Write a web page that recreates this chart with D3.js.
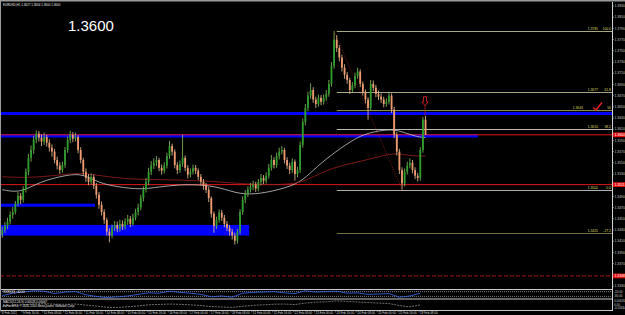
<!DOCTYPE html>
<html>
<head>
<meta charset="utf-8">
<script src="https://cdn.jsdelivr.net/npm/d3@7"></script>
<style>
  body { margin: 0; background: #000; }
  svg { display: block; font-family: Arial, "Liberation Sans", sans-serif; }
</style>
</head>
<body>
<script>
// chart header texts
const symbolLine = 'EURUSD,H1  1.3627 1.3634 1.3600 1.3600';
const bigLabel = '1.3600';
const willRLabel = 'WillR(40) -40.00';
const macdLabel = 'MACD(12,26,9) 0.00026 0.00047';
const copyLabel = 'FxPro MT4, \u00a9 2001-2010 MetaQuotes Software Corp.';

// candles (one per 2 hours)
const opens = [
  1.3422, 1.3430, 1.3437, 1.3445, 1.3457, 1.3462, 1.3477, 1.3491, 1.3484, 1.3502,
  1.3534, 1.3559, 1.3573, 1.3591, 1.3602, 1.3595, 1.3588, 1.3596, 1.3586, 1.3577,
  1.3570, 1.3555, 1.3545, 1.3537, 1.3546, 1.3573, 1.3591, 1.3600, 1.3593, 1.3596,
  1.3573, 1.3555, 1.3534, 1.3523, 1.3516, 1.3525, 1.3509, 1.3493, 1.3475, 1.3462,
  1.3448, 1.3427, 1.3420, 1.3434, 1.3439, 1.3432, 1.3441, 1.3436, 1.3445, 1.3450,
  1.3441, 1.3452, 1.3462, 1.3470, 1.3487, 1.3502, 1.3516, 1.3534, 1.3545, 1.3550,
  1.3555, 1.3541, 1.3536, 1.3545, 1.3562, 1.3580, 1.3570, 1.3546, 1.3537, 1.3548,
  1.3559, 1.3541, 1.3529, 1.3534, 1.3541, 1.3536, 1.3525, 1.3516, 1.3509, 1.3502,
  1.3487, 1.3459, 1.3437, 1.3448, 1.3461, 1.3452, 1.3441, 1.3434, 1.3427, 1.3420,
  1.3411, 1.3427, 1.3462, 1.3484, 1.3495, 1.3502, 1.3507, 1.3511, 1.3504, 1.3516,
  1.3523, 1.3518, 1.3527, 1.3541, 1.3555, 1.3546, 1.3562, 1.3570, 1.3573, 1.3555,
  1.3545, 1.3537, 1.3552, 1.3530, 1.3537, 1.3582, 1.3623, 1.3648, 1.3670, 1.3680,
  1.3663, 1.3655, 1.3666, 1.3659, 1.3666, 1.3673, 1.3691, 1.3723, 1.3770, 1.3755,
  1.3738, 1.3720, 1.3707, 1.3698, 1.3680, 1.3688, 1.3705, 1.3713, 1.3691, 1.3677,
  1.3663, 1.3648, 1.3691, 1.3684, 1.3673, 1.3668, 1.3663, 1.3655, 1.3659, 1.3670,
  1.3645, 1.3600, 1.3570, 1.3537, 1.3513, 1.3534, 1.3545, 1.3550, 1.3537, 1.3527,
  1.3523, 1.3573, 1.3627
];
const highs = [
  1.3436, 1.3444, 1.3452, 1.3463, 1.3471, 1.3482, 1.3498, 1.3496, 1.3508, 1.3540,
  1.3566, 1.3581, 1.3598, 1.3608, 1.3607, 1.3601, 1.3604, 1.3600, 1.3592, 1.3583,
  1.3575, 1.3561, 1.3551, 1.3552, 1.3578, 1.3597, 1.3607, 1.3605, 1.3604, 1.3599,
  1.3578, 1.3559, 1.3540, 1.3530, 1.3531, 1.3529, 1.3514, 1.3498, 1.3481, 1.3467,
  1.3452, 1.3433, 1.3440, 1.3446, 1.3445, 1.3448, 1.3447, 1.3451, 1.3457, 1.3455,
  1.3459, 1.3468, 1.3477, 1.3493, 1.3508, 1.3523, 1.3541, 1.3553, 1.3558, 1.3562,
  1.3559, 1.3547, 1.3551, 1.3568, 1.3589, 1.3584, 1.3574, 1.3551, 1.3554, 1.3600,
  1.3563, 1.3546, 1.3540, 1.3547, 1.3546, 1.3540, 1.3530, 1.3521, 1.3514, 1.3507,
  1.3490, 1.3463, 1.3454, 1.3467, 1.3466, 1.3457, 1.3446, 1.3439, 1.3432, 1.3425,
  1.3432, 1.3467, 1.3490, 1.3501, 1.3508, 1.3514, 1.3518, 1.3516, 1.3521, 1.3530,
  1.3528, 1.3533, 1.3548, 1.3564, 1.3560, 1.3568, 1.3577, 1.3580, 1.3577, 1.3560,
  1.3550, 1.3558, 1.3556, 1.3543, 1.3588, 1.3629, 1.3655, 1.3677, 1.3692, 1.3685,
  1.3668, 1.3672, 1.3671, 1.3672, 1.3680, 1.3698, 1.3730, 1.3785, 1.3778, 1.3760,
  1.3743, 1.3726, 1.3712, 1.3702, 1.3694, 1.3711, 1.3720, 1.3717, 1.3695, 1.3681,
  1.3667, 1.3698, 1.3697, 1.3689, 1.3679, 1.3674, 1.3668, 1.3665, 1.3677, 1.3674,
  1.3650, 1.3605, 1.3575, 1.3542, 1.3540, 1.3552, 1.3558, 1.3555, 1.3542, 1.3532,
  1.3578, 1.3632, 1.3634
];
const lows = [
  1.3416, 1.3425, 1.3432, 1.3440, 1.3450, 1.3458, 1.3472, 1.3476, 1.3479, 1.3497,
  1.3528, 1.3552, 1.3566, 1.3585, 1.3588, 1.3580, 1.3582, 1.3579, 1.3570, 1.3561,
  1.3549, 1.3538, 1.3530, 1.3532, 1.3541, 1.3568, 1.3585, 1.3587, 1.3588, 1.3567,
  1.3549, 1.3527, 1.3516, 1.3510, 1.3511, 1.3503, 1.3486, 1.3468, 1.3456, 1.3441,
  1.3420, 1.3408, 1.3415, 1.3428, 1.3426, 1.3427, 1.3430, 1.3431, 1.3439, 1.3435,
  1.3437, 1.3447, 1.3456, 1.3465, 1.3481, 1.3497, 1.3510, 1.3528, 1.3539, 1.3544,
  1.3535, 1.3529, 1.3531, 1.3540, 1.3557, 1.3563, 1.3540, 1.3530, 1.3532, 1.3543,
  1.3535, 1.3522, 1.3524, 1.3529, 1.3530, 1.3519, 1.3510, 1.3502, 1.3496, 1.3480,
  1.3452, 1.3425, 1.3432, 1.3443, 1.3446, 1.3435, 1.3428, 1.3420, 1.3413, 1.3404,
  1.3406, 1.3422, 1.3457, 1.3478, 1.3489, 1.3497, 1.3501, 1.3498, 1.3499, 1.3510,
  1.3512, 1.3513, 1.3522, 1.3536, 1.3540, 1.3541, 1.3556, 1.3565, 1.3549, 1.3539,
  1.3530, 1.3532, 1.3518, 1.3524, 1.3532, 1.3577, 1.3617, 1.3642, 1.3664, 1.3657,
  1.3648, 1.3650, 1.3653, 1.3654, 1.3661, 1.3668, 1.3686, 1.3718, 1.3748, 1.3731,
  1.3713, 1.3700, 1.3691, 1.3673, 1.3675, 1.3683, 1.3700, 1.3685, 1.3670, 1.3656,
  1.3627, 1.3643, 1.3678, 1.3667, 1.3662, 1.3657, 1.3649, 1.3650, 1.3654, 1.3639,
  1.3594, 1.3563, 1.3530, 1.3502, 1.3508, 1.3529, 1.3540, 1.3531, 1.3521, 1.3517,
  1.3518, 1.3568, 1.3600
];
const closes = [
  1.3430, 1.3437, 1.3445, 1.3457, 1.3462, 1.3477, 1.3491, 1.3484, 1.3502, 1.3534,
  1.3559, 1.3573, 1.3591, 1.3602, 1.3595, 1.3588, 1.3596, 1.3586, 1.3577, 1.3570,
  1.3555, 1.3545, 1.3537, 1.3546, 1.3573, 1.3591, 1.3600, 1.3593, 1.3596, 1.3573,
  1.3555, 1.3534, 1.3523, 1.3516, 1.3525, 1.3509, 1.3493, 1.3475, 1.3462, 1.3448,
  1.3427, 1.3420, 1.3434, 1.3439, 1.3432, 1.3441, 1.3436, 1.3445, 1.3450, 1.3441,
  1.3452, 1.3462, 1.3470, 1.3487, 1.3502, 1.3516, 1.3534, 1.3545, 1.3550, 1.3555,
  1.3541, 1.3536, 1.3545, 1.3562, 1.3580, 1.3570, 1.3546, 1.3537, 1.3548, 1.3559,
  1.3541, 1.3529, 1.3534, 1.3541, 1.3536, 1.3525, 1.3516, 1.3509, 1.3502, 1.3487,
  1.3459, 1.3437, 1.3448, 1.3461, 1.3452, 1.3441, 1.3434, 1.3427, 1.3420, 1.3411,
  1.3427, 1.3462, 1.3484, 1.3495, 1.3502, 1.3507, 1.3511, 1.3504, 1.3516, 1.3523,
  1.3518, 1.3527, 1.3541, 1.3555, 1.3546, 1.3562, 1.3570, 1.3573, 1.3555, 1.3545,
  1.3537, 1.3552, 1.3530, 1.3537, 1.3582, 1.3623, 1.3648, 1.3670, 1.3680, 1.3663,
  1.3655, 1.3666, 1.3659, 1.3666, 1.3673, 1.3691, 1.3723, 1.3770, 1.3755, 1.3738,
  1.3720, 1.3707, 1.3698, 1.3680, 1.3688, 1.3705, 1.3713, 1.3691, 1.3677, 1.3663,
  1.3648, 1.3691, 1.3684, 1.3673, 1.3668, 1.3663, 1.3655, 1.3659, 1.3670, 1.3645,
  1.3600, 1.3570, 1.3537, 1.3513, 1.3534, 1.3545, 1.3550, 1.3537, 1.3527, 1.3523,
  1.3573, 1.3627, 1.3600
];

// moving averages, sampled at candle numbers
const maWhiteBars = [0, 7, 14, 25, 31, 37, 44, 53, 60, 68, 75, 83, 91, 99, 106, 114, 119, 125, 134, 140, 149, 154, 159, 162];
const maWhite = [1.3502, 1.3496, 1.3516, 1.3529, 1.3530, 1.3514, 1.3507, 1.3502, 1.3507, 1.3511, 1.3511, 1.3507, 1.3493, 1.3495, 1.3502, 1.3514, 1.3537, 1.3561, 1.3591, 1.3604, 1.3611, 1.3604, 1.3596, 1.3595];
const maRedBars = [0, 12, 25, 31, 37, 50, 63, 75, 83, 96, 109, 116, 125, 140, 149, 154, 159, 162];
const maRed = [1.3525, 1.3523, 1.3530, 1.3532, 1.3527, 1.3520, 1.3520, 1.3518, 1.3516, 1.3511, 1.3511, 1.3516, 1.3541, 1.3555, 1.3568, 1.3564, 1.3562, 1.3562];

// indicator panels, one value every 4 candles
const willR = [-70, -40, -25, -10, -15, -45, -25, -20, -60, -80, -95, -85, -75, -55, -35, -40, -15, -30, -40, -55, -85, -75, -90, -40, -30, -25, -20, -35, -45, -10, -25, -20, -15, -40, -35, -55, -50, -45, -90, -75, -40];
const macd = [-0.0008, -0.0003, 0.0004, 0.0012, 0.0014, 0.0009, 0.0008, 0.0010, 0.0002, -0.0006, -0.0016, -0.0018, -0.0012, -0.0005, 0.0004, 0.0007, 0.0010, 0.0008, 0.0004, -0.0002, -0.0010, -0.0014, -0.0017, -0.0008, 0.0000, 0.0004, 0.0009, 0.0010, 0.0006, 0.0018, 0.0026, 0.0028, 0.0036, 0.0032, 0.0027, 0.0022, 0.0018, 0.0014, -0.0002, -0.0012, 0.0003];
const willRLevels = [-20, -80];
const macdAxis = ['0.00426', '0.00', '-0.00344'];

// axes
const priceTicks = [1.3830, 1.3810, 1.3790, 1.3770, 1.3750, 1.3730, 1.3710, 1.3690, 1.3670, 1.3650, 1.3630, 1.3610, 1.3590,
                    1.3570, 1.3550, 1.3530, 1.3510, 1.3490, 1.3470, 1.3450, 1.3430, 1.3410, 1.3390, 1.3370, 1.3350, 1.3330];
const dateLabels = ['8 Feb 2011', '9 Feb 16:00', '10 Feb 08:00', '11 Feb 00:00', '11 Feb 16:00', '14 Feb 08:00', '15 Feb 00:00',
                    '15 Feb 16:00', '16 Feb 08:00', '17 Feb 00:00', '17 Feb 16:00', '18 Feb 08:00', '21 Feb 00:00', '21 Feb 16:00',
                    '22 Feb 08:00', '23 Feb 00:00', '23 Feb 16:00', '24 Feb 08:00', '25 Feb 00:00', '25 Feb 16:00', '28 Feb 08:00'];

// drawn objects (prices, hour-bar numbers)
const fibHigh = 1.3785;
const fibLow = 1.3502;
const fibStartHour = 257;
const fibLowHour = 307;
const fibLevels = [100, 61.8, 50, 38.2, 0, -27.2];
const blueLevels = [1.3638, 1.3598];
const blueLevelEnds = [null, 365];
const blueZonesTop = [1.3477, 1.3439];
const blueZonesBottom = [1.3473, 1.3420];
const blueZoneEnds = [72, 190];
const redLevels = [1.3600, 1.3511, 1.3348];

let width = 625;
let height = 315;
let plotRight = 612;
let svg = d3.select('body').append('svg').attr('width', width).attr('height', height);

// hour bars -> x, prices -> y
let xHour = d3.scaleLinear().domain([0, 320]).range([1, 419]);
let xCandle = (j) => xHour(2 * j + 1);
let y = d3.scaleLinear().domain([1.3330, 1.3830]).range([286, 6]);
let yWill = d3.scaleLinear().domain([0, -100]).range([290, 298]);
let yMacd = d3.scaleLinear().domain([0.0043, -0.0034]).range([300, 309.5]);

let main = svg.append('g');
main.append('clipPath').attr('id', 'clipMain')
  .append('rect').attr('x', 0).attr('y', 2).attr('width', plotRight).attr('height', 287);

let drawZones = () => {
  let g = main.append('g').attr('clip-path', 'url(#clipMain)');
  g.selectAll('rect.zone')
    .data(blueZonesTop)
    .enter()
    .append('rect')
      .attr('x', 0)
      .attr('y', (d) => y(d))
      .attr('width', (d, i) => xHour(blueZoneEnds[i]))
      .attr('height', (d, i) => Math.max(3, y(blueZonesBottom[i]) - y(d)))
      .attr('fill', '#0000ff');
  g.selectAll('line.blue')
    .data(blueLevels)
    .enter()
    .append('line')
      .attr('x1', 0)
      .attr('x2', (d, i) => blueLevelEnds[i] === null ? plotRight : xHour(blueLevelEnds[i]))
      .attr('y1', (d) => y(d))
      .attr('y2', (d) => y(d))
      .attr('stroke', '#0000ff')
      .attr('stroke-width', 3.2);
  g.selectAll('line.red')
    .data(redLevels)
    .enter()
    .append('line')
      .attr('x1', 0)
      .attr('x2', plotRight)
      .attr('y1', (d) => y(d))
      .attr('y2', (d) => y(d))
      .attr('stroke', (d, i) => i === 2 ? '#a01818' : '#e01818')
      .attr('stroke-width', 1)
      .attr('stroke-dasharray', (d, i) => i === 2 ? '4,2' : null);
}

let drawFib = () => {
  let g = main.append('g');
  let range = fibHigh - fibLow;
  let levelColors = ['#a8a880', '#a8a880', '#8a8a50', '#b8b8b0', '#b0b0a8', '#707040'];
  g.selectAll('line')
    .data(fibLevels)
    .enter()
    .append('line')
      .attr('x1', xHour(fibStartHour))
      .attr('x2', plotRight)
      .attr('y1', (d) => Math.round(y(fibLow + range * d / 100)) + 0.5)
      .attr('y2', (d) => Math.round(y(fibLow + range * d / 100)) + 0.5)
      .attr('stroke', (d, i) => levelColors[i])
      .attr('stroke-width', 1);
  g.selectAll('text.lvl')
    .data(fibLevels)
    .enter()
    .append('text')
      .attr('x', plotRight - 1)
      .attr('y', (d) => y(fibLow + range * d / 100) - 1)
      .attr('text-anchor', 'end')
      .attr('font-size', 3.4)
      .attr('fill', '#d8d868')
      .text((d) => d === 50 ? '50' : d.toFixed(1));
  g.selectAll('text.price')
    .data(fibLevels)
    .enter()
    .append('text')
      .attr('x', (d) => d === 50 ? plotRight - 29 : plotRight - 14)
      .attr('y', (d) => y(fibLow + range * d / 100) - 1)
      .attr('text-anchor', 'end')
      .attr('font-size', 3.4)
      .attr('fill', '#d8d868')
      .text((d) => (fibLow + range * d / 100).toFixed(4));
  // dotted trend line of the fibo
  g.append('line')
    .attr('x1', xHour(fibStartHour - 2))
    .attr('y1', y(fibHigh))
    .attr('x2', xHour(fibLowHour))
    .attr('y2', y(fibLow))
    .attr('stroke', '#a02020')
    .attr('stroke-width', 0.8)
    .attr('stroke-dasharray', '1,1.5');
  // red tick mark beside the 50 level
  let y50 = y(fibLow + range * 0.5);
  g.append('path')
    .attr('d', `M${plotRight - 19},${y50 - 3} L${plotRight - 16},${y50 - 0.5} L${plotRight - 10},${y50 - 8}`)
    .attr('fill', 'none')
    .attr('stroke', '#e02020')
    .attr('stroke-width', 1.4);
}

let drawAverages = () => {
  let line = d3.line().curve(d3.curveBasis);
  main.append('path')
    .attr('d', line(maWhiteBars.map((b, i) => [xCandle(b), y(maWhite[i])])))
    .attr('fill', 'none')
    .attr('stroke', '#c8c8c8')
    .attr('stroke-width', 0.8);
  main.append('path')
    .attr('d', line(maRedBars.map((b, i) => [xCandle(b), y(maRed[i])])))
    .attr('fill', 'none')
    .attr('stroke', '#9a2020')
    .attr('stroke-width', 0.8);
}

let drawCandles = () => {
  let idx = d3.range(closes.length);
  let up = (i) => closes[i] >= opens[i];
  let candle = main.selectAll('g.candle')
    .data(idx)
    .enter()
    .append('g');
  candle.append('line')
    .attr('x1', (i) => xCandle(i))
    .attr('x2', (i) => xCandle(i))
    .attr('y1', (i) => y(highs[i]))
    .attr('y2', (i) => y(lows[i]))
    .attr('stroke', (i) => up(i) ? '#8cc060' : '#e8c898')
    .attr('stroke-width', 0.8);
  candle.append('rect')
    .attr('x', (i) => xCandle(i) - 0.9)
    .attr('y', (i) => y(Math.max(opens[i], closes[i])))
    .attr('width', 1.8)
    .attr('height', (i) => Math.max(0.8, Math.abs(y(opens[i]) - y(closes[i]))))
    .attr('fill', (i) => up(i) ? '#2e9e2e' : '#f09a70');
  // red arrow over the last bar
  let last = closes.length - 1;
  let ax = xCandle(last) - 0.5;
  let ay = y(highs[last]) - 19;
  main.append('line')
    .attr('x1', ax).attr('x2', ax)
    .attr('y1', ay + 9).attr('y2', y(highs[last]))
    .attr('stroke', '#c02020').attr('stroke-width', 0.7);
  main.append('path')
    .attr('d', `M${ax - 1.5},${ay} L${ax + 1.5},${ay} L${ax + 1.5},${ay + 5} L${ax + 3},${ay + 5} L${ax},${ay + 9} L${ax - 3},${ay + 5} L${ax - 1.5},${ay + 5} Z`)
    .attr('fill', 'none')
    .attr('stroke', '#d02020')
    .attr('stroke-width', 0.9);
}

let drawPanels = () => {
  let sep = [289.5, 299, 310.5];
  svg.selectAll('line.sep')
    .data(sep)
    .enter()
    .append('line')
      .attr('x1', 0).attr('x2', plotRight)
      .attr('y1', (d) => d).attr('y2', (d) => d)
      .attr('stroke', '#c8c8c8').attr('stroke-width', 1);
  // WillR
  svg.selectAll('line.wl')
    .data(willRLevels)
    .enter()
    .append('line')
      .attr('x1', 0).attr('x2', plotRight)
      .attr('y1', (d) => yWill(d)).attr('y2', (d) => yWill(d))
      .attr('stroke', '#d0d0d0').attr('stroke-width', 0.6)
      .attr('stroke-dasharray', '1,1');
  svg.append('path')
    .attr('d', d3.line()(willR.map((v, i) => [xCandle(i * 4), yWill(v)])))
    .attr('fill', 'none')
    .attr('stroke', '#3a6cf0')
    .attr('stroke-width', 0.8);
  // MACD
  svg.append('path')
    .attr('d', d3.line()(macd.map((v, i) => [xCandle(i * 4), yMacd(v)])))
    .attr('fill', 'none')
    .attr('stroke', '#8a8a8a')
    .attr('stroke-width', 0.8)
    .attr('stroke-dasharray', '2,1');
  svg.selectAll('text.wr')
    .data(willRLevels)
    .enter()
    .append('text')
      .attr('x', plotRight + 2).attr('y', (d) => yWill(d) + 1)
      .attr('font-size', 3).attr('fill', '#c8c8c8')
      .text((d) => d.toFixed(2));
  svg.selectAll('text.mc')
    .data(macdAxis)
    .enter()
    .append('text')
      .attr('x', plotRight + 2).attr('y', (d, i) => 302 + i * 3.5)
      .attr('font-size', 3).attr('fill', '#c8c8c8')
      .text((d) => d);
  let texts = [[willRLabel, 293], [macdLabel, 302.5], [copyLabel, 306.8]];
  svg.selectAll('text.lab')
    .data(texts)
    .enter()
    .append('text')
      .attr('x', 3).attr('y', (d) => d[1])
      .attr('font-size', 3).attr('fill', '#e8e8e8')
      .text((d) => d[0]);
}

let drawAxes = () => {
  // price axis
  svg.append('line')
    .attr('x1', plotRight + 0.5).attr('x2', plotRight + 0.5)
    .attr('y1', 2).attr('y2', 311)
    .attr('stroke', '#d0d0d0').attr('stroke-width', 1);
  let ticks = priceTicks.filter((t) => redLevels.every((r) => Math.abs(y(t) - y(r)) > 4));
  svg.selectAll('text.pt')
    .data(ticks)
    .enter()
    .append('text')
      .attr('x', plotRight + 2.5).attr('y', (d) => y(d) + 1.2)
      .attr('font-size', 3.4).attr('fill', '#c8c8c8')
      .text((d) => d.toFixed(4));
  svg.selectAll('line.pt')
    .data(ticks)
    .enter()
    .append('line')
      .attr('x1', plotRight).attr('x2', plotRight + 2)
      .attr('y1', (d) => y(d)).attr('y2', (d) => y(d))
      .attr('stroke', '#c8c8c8').attr('stroke-width', 0.5);
  let tags = svg.selectAll('g.tag')
    .data(redLevels)
    .enter()
    .append('g');
  tags.append('rect')
    .attr('x', plotRight + 1).attr('y', (d) => y(d) - 2.4)
    .attr('width', 12).attr('height', 4.8)
    .attr('fill', '#e01010');
  tags.append('text')
    .attr('x', plotRight + 2.5).attr('y', (d) => y(d) + 1.2)
    .attr('font-size', 3.4).attr('fill', '#ffffff')
    .text((d) => d.toFixed(4));
  // time axis
  svg.selectAll('line.tt')
    .data(dateLabels)
    .enter()
    .append('line')
      .attr('x1', (d, i) => xHour(i * 16)).attr('x2', (d, i) => xHour(i * 16))
      .attr('y1', 310.5).attr('y2', 312.5)
      .attr('stroke', '#c8c8c8').attr('stroke-width', 0.5);
  svg.selectAll('text.tt')
    .data(dateLabels)
    .enter()
    .append('text')
      .attr('x', (d, i) => xHour(i * 16) + 1).attr('y', 314.3)
      .attr('font-size', 3).attr('fill', '#d8d8d8')
      .text((d) => d);
}

let drawFrame = () => {
  svg.append('line').attr('x1', 0).attr('x2', width).attr('y1', 0.8).attr('y2', 0.8)
    .attr('stroke', '#9a9a9a').attr('stroke-width', 1.6);
  svg.append('line').attr('x1', 0.5).attr('x2', 0.5).attr('y1', 0).attr('y2', 311)
    .attr('stroke', '#9a9a9a').attr('stroke-width', 1);
  svg.append('text')
    .attr('x', 3).attr('y', 5.5)
    .attr('font-size', 3).attr('fill', '#e8e8e8')
    .text(symbolLine);
  svg.append('text')
    .attr('x', 68).attr('y', 31)
    .attr('font-size', 15).attr('fill', '#ffffff')
    .text(bigLabel);
}

drawZones();
drawFib();
drawAverages();
drawCandles();
drawPanels();
drawAxes();
drawFrame();
</script>
</body>
</html>
